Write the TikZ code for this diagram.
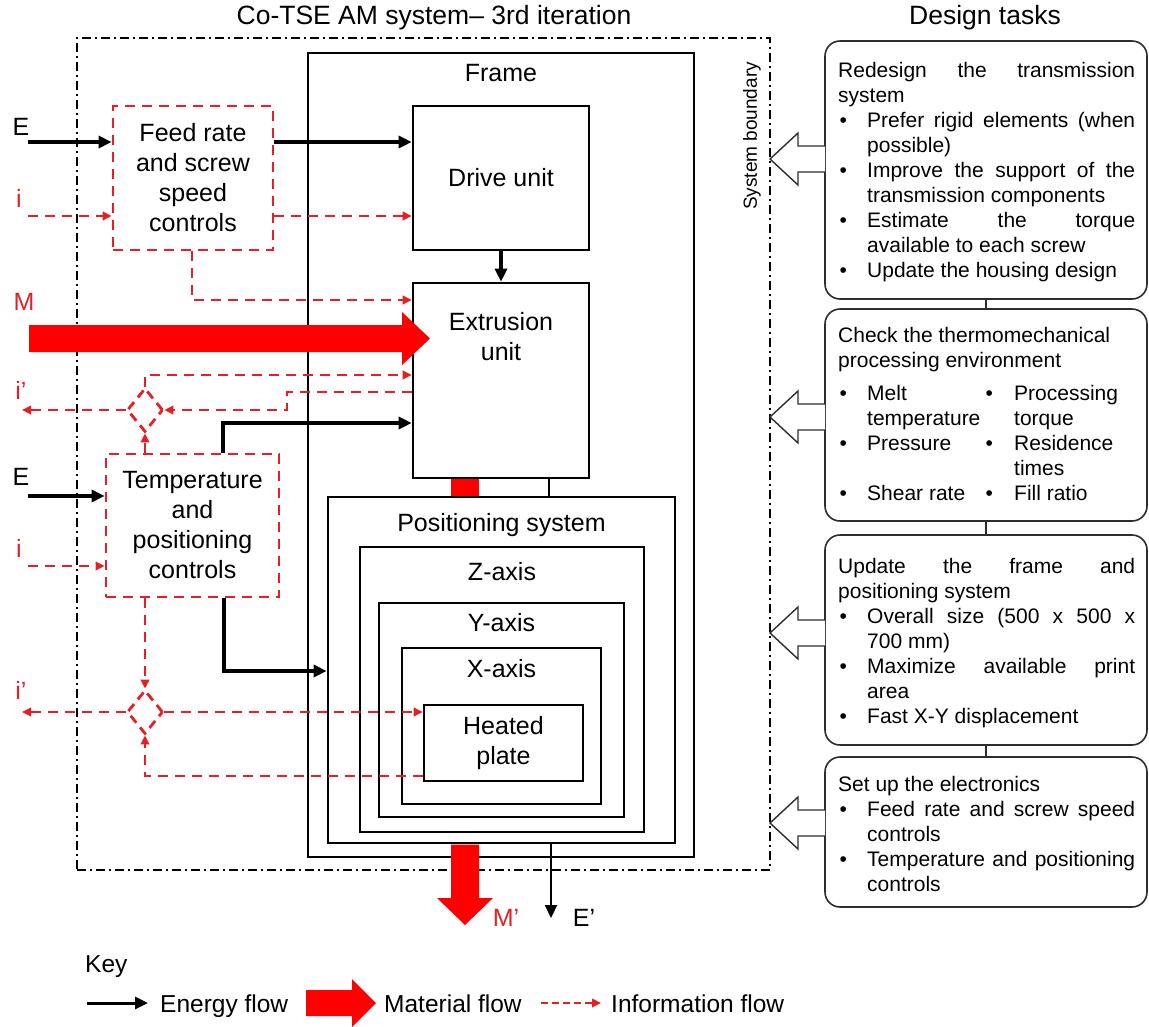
\documentclass[tikz,border=0pt]{standalone}
\usepackage{fontspec}
\setmainfont{Liberation Sans}
\usepackage{array}
\usetikzlibrary{arrows.meta,shapes.geometric}

\definecolor{infored}{RGB}{226,32,38}
\definecolor{matred}{RGB}{255,0,0}
\definecolor{taskgray}{RGB}{45,45,45}

\newcommand\lblfont{\fontsize{25}{30}\selectfont}
\newcommand\keyfont{\fontsize{24.5}{28}\selectfont}
\newcommand\headfont{\fontsize{26.5}{30}\selectfont}
\newcommand\taskfont{\fontsize{21}{25}\selectfont}

% justified text block used inside the task boxes
\newcommand\tasktext[1]{\parbox[t]{297pt}{\taskfont\hyphenpenalty=10000\exhyphenpenalty=10000\strut #1}}
\newenvironment{tasklist}{\begin{list}{\textbullet}{%
  \setlength\leftmargin{29pt}\setlength\labelwidth{29pt}\setlength\labelsep{0pt}%
  \setlength\topsep{0pt}\setlength\partopsep{0pt}\setlength\itemsep{0pt}\setlength\parsep{0pt}%
  \renewcommand\makelabel[1]{\makebox[29pt][l]{\hspace{1.5pt}##1}}}}{\end{list}}

\begin{document}
\begin{tikzpicture}[x=1pt,y=-1pt,
  blk/.style={draw=black, line width=2.6pt, inner sep=0pt, align=center, font=\lblfont},
  ctrl/.style={draw=infored, line width=2.8pt, dash pattern=on 10pt off 7pt, inner sep=0pt, align=center, font=\lblfont},
  lbl/.style={inner sep=0pt, font=\lblfont},
  redlbl/.style={inner sep=0pt, font=\lblfont, text=infored},
  energy/.style={draw=black, line width=3.2pt, -{Triangle[length=13pt,width=12pt]}},
  link/.style={draw=black, line width=2.6pt},
  info/.style={draw=infored, line width=2.8pt, dash pattern=on 10pt off 7pt, -{Triangle[length=9pt,width=8.5pt]}},
  junction/.style={diamond, draw=infored, line width=2.8pt, dash pattern=on 9pt off 6pt, minimum width=36pt, minimum height=44pt, inner sep=0pt},
  task/.style={draw=taskgray, line width=1.6pt, rounded corners=15pt, minimum width=322pt, inner sep=0pt},
  taskline/.style={draw=taskgray, line width=1.6pt},
  hollow/.style={draw=taskgray, line width=1.4pt, fill=white, line join=miter},
  boundary/.style={draw=black, line width=2pt, dash pattern=on 9pt off 4pt on 2pt off 4pt},
  txt/.style={inner sep=0pt, anchor=north west}
]
\useasboundingbox (0,0) rectangle (1149,1026);

% headings
\node[inner sep=0pt, font=\headfont] (systitle) at (434,18) {Co-TSE AM system-- 3rd iteration};
\node[inner sep=0pt, font=\headfont] (tasktitle) at (985,18) {Design tasks};

% system boundary
\node[boundary, minimum width=693pt, minimum height=832pt] (sysbound) at (423.5,454) {};
\node[rotate=90, inner sep=0pt, font=\fontsize{19}{22}\selectfont] (sysblbl) at (752,136) {System boundary};

% material passing between extrusion unit and positioning system
\fill[matred] (451,478) rectangle (479,497);

% machine blocks
\node[blk, minimum width=386pt, minimum height=804pt] (frame) at (501,455) {};
\node[lbl, anchor=base] (framelbl) at (501,81) {Frame};
\node[blk, minimum width=176pt, minimum height=144pt] (drive) at (501,178) {Drive unit};
\node[blk, minimum width=176pt, minimum height=195pt] (extr) at (501,380.5) {};
\node[lbl, align=center] (extrlbl) at (501,337) {Extrusion\\unit};
\node[blk, minimum width=347pt, minimum height=346pt] (pos) at (501.5,670) {};
\node[lbl, anchor=base] (poslbl) at (501.5,531) {Positioning system};
\node[blk, minimum width=284pt, minimum height=285pt] (zax) at (502,689.5) {};
\node[lbl, anchor=base] (zlbl) at (502,580) {Z-axis};
\node[blk, minimum width=245pt, minimum height=214pt] (yax) at (501.5,710) {};
\node[lbl, anchor=base] (ylbl) at (501.5,631) {Y-axis};
\node[blk, minimum width=199pt, minimum height=156pt] (xax) at (501.5,726) {};
\node[lbl, anchor=base] (xlbl) at (501.5,677) {X-axis};
\node[blk, minimum width=159pt, minimum height=76pt] (plate) at (503.5,743) {Heated\\plate};

% control blocks
\node[ctrl, minimum width=160pt, minimum height=144pt] (feed) at (193,178) {Feed rate\\and screw\\speed\\controls};
\node[ctrl, minimum width=173pt, minimum height=143pt] (temp) at (192.5,525.5) {Temperature\\and\\positioning\\controls};

% information junctions
\node[junction] (j1) at (145,410) {};
\node[junction] (j2) at (145,712) {};

% energy flows
\coordinate (ein1) at (28,142);
\coordinate (ein2) at (28,496);
\coordinate (tcorner) at (223,423);
\coordinate (pcorner) at (224,671);
\coordinate (xlink) at (549,0);
\coordinate (eout) at (551,918);
\draw[energy] (ein1) -- (ein1 -| feed.west);
\draw[energy] (feed.east |- ein1) -- (ein1 -| drive.west);
\draw[energy] (drive.south) -- (extr.north);
\draw[energy] (tcorner |- temp.north) -- (tcorner) -- (tcorner -| extr.west);
\draw[energy] (ein2) -- (ein2 -| temp.west);
\draw[energy] (pcorner |- temp.south) -- (pcorner) -- (pcorner -| pos.west);
\draw[link] (xlink |- extr.south) -- (xlink |- pos.north);
\draw[energy, line width=2.2pt] (eout |- pos.south) -- (eout);

% information flows
\coordinate (iin1) at (28,216);
\coordinate (iin2) at (28,566);
\coordinate (fcorner) at (192,300);
\coordinate (rcorner) at (287,392);
\coordinate (ucorner) at (145,375);
\coordinate (iout1) at (22,410);
\coordinate (iout2) at (22,712);
\coordinate (hcorner) at (145,776);
\draw[info] (iin1) -- (iin1 -| feed.west);
\draw[info] (feed.east |- iin1) -- (iin1 -| drive.west);
\draw[info] (fcorner |- feed.south) -- (fcorner) -- (fcorner -| extr.west);
\draw[info] (rcorner -| extr.west) -- (rcorner) |- (j1.east);
\draw[info] (j1.west) -- (iout1);
\draw[info] (j1.north) -- (ucorner) -- (ucorner -| extr.west);
\draw[info] (j1.south |- temp.north) -- (j1.south);
\draw[info] (iin2) -- (iin2 -| temp.west);
\draw[info] (j2.north |- temp.south) -- (j2.north);
\draw[info] (j2.east) -- (j2.east -| plate.west);
\draw[info] (j2.west) -- (iout2);
\draw[info] (hcorner -| plate.west) -- (hcorner) -- (j2.south);

% material flows
\fill[matred] (29,325) -- (402,325) -- (402,312) -- (430,338.5) -- (402,365) -- (402,352) -- (29,352) -- cycle;
\fill[matred] (451,844.5) -- (479,844.5) -- (479,898) -- (493,898) -- (465,925) -- (437,898) -- (451,898) -- cycle;

% flow labels
\node[lbl] (elbl1) at (21,127) {E};
\node[redlbl] (ilbl1) at (19,198) {i};
\node[redlbl] (mlbl) at (24,302) {M};
\node[redlbl] (iplbl1) at (21,390) {i'};
\node[lbl] (elbl2) at (21,477) {E};
\node[redlbl] (ilbl2) at (19,548) {i};
\node[redlbl] (iplbl2) at (21,690) {i'};
\node[redlbl] (mplbl) at (506,918) {M'};
\node[lbl] (eplbl) at (584,918) {E'};

% design tasks
\node[task, minimum height=258pt] (b1) at (986,170) {};
\node[task, minimum height=212pt] (b2) at (986,415) {};
\node[task, minimum height=210pt] (b3) at (986,640) {};
\node[task, minimum height=150pt] (b4) at (986,832) {};
\draw[taskline] (b1.south) -- (b2.north);
\draw[taskline] (b2.south) -- (b3.north);
\draw[taskline] (b3.south) -- (b4.north);

\newcommand\taskarrow[1]{\draw[hollow, shift={(825,#1)}] (0,-13) -- (-27,-13) -- (-27,-26) -- (-55,0) -- (-27,26) -- (-27,13) -- (0,13);}
\taskarrow{159}
\taskarrow{417}
\taskarrow{633}
\taskarrow{823}

\node[txt] (t1) at (838,59.5) {\tasktext{Redesign the transmission\linebreak system
\begin{tasklist}
\item Prefer rigid elements (when\linebreak possible)
\item Improve the support of the\linebreak transmission components
\item Estimate the torque\linebreak available to each screw
\item Update the housing design
\end{tasklist}}};

\node[txt] (t2) at (838,324.5) {\tasktext{Check the thermomechanical\newline processing environment}};
\node[txt] (t2b) at (838,382.5) {\taskfont\renewcommand\arraystretch{1}%
\begin{tabular}[t]{@{}>{\raggedright}p{29pt}@{}>{\raggedright}p{117pt}@{}>{\raggedright}p{30pt}@{}>{\raggedright\arraybackslash}p{121pt}@{}}
\hspace{1.5pt}\textbullet & Melt\newline temperature & \hspace{1.5pt}\textbullet & Processing\newline torque\\
\hspace{1.5pt}\textbullet & Pressure & \hspace{1.5pt}\textbullet & Residence\newline times\\
\hspace{1.5pt}\textbullet & Shear rate & \hspace{1.5pt}\textbullet & Fill ratio
\end{tabular}};

\node[txt] (t3) at (838,555.5) {\tasktext{Update the frame and\linebreak positioning system
\begin{tasklist}
\item Overall size (500 x 500 x\linebreak 700 mm)
\item Maximize available print\linebreak area
\item Fast X-Y displacement
\end{tasklist}}};

\node[txt] (t4) at (838,773.5) {\tasktext{Set up the electronics
\begin{tasklist}
\item Feed rate and screw speed\linebreak controls
\item Temperature and positioning\linebreak controls
\end{tasklist}}};

% key
\node[inner sep=0pt, font=\keyfont, anchor=base west] (keyttl) at (85,972) {Key};
\coordinate (kea) at (87,1003);
\coordinate (keb) at (148,1003);
\draw[energy, line width=3pt] (kea) -- (keb);
\node[inner sep=0pt, font=\keyfont, anchor=base west] (kenergy) at (160,1012) {Energy flow};
\fill[matred] (306,990) -- (352,990) -- (352,979) -- (376,1003) -- (352,1027) -- (352,1016) -- (306,1016) -- cycle;
\node[inner sep=0pt, font=\keyfont, anchor=base west] (kmat) at (384,1012) {Material flow};
\coordinate (kia) at (541,1003);
\coordinate (kib) at (601,1003);
\draw[info, dash pattern=on 7pt off 4pt] (kia) -- (kib);
\node[inner sep=0pt, font=\keyfont, anchor=base west] (kinfo) at (611,1012) {Information flow};
\end{tikzpicture}
\end{document}
